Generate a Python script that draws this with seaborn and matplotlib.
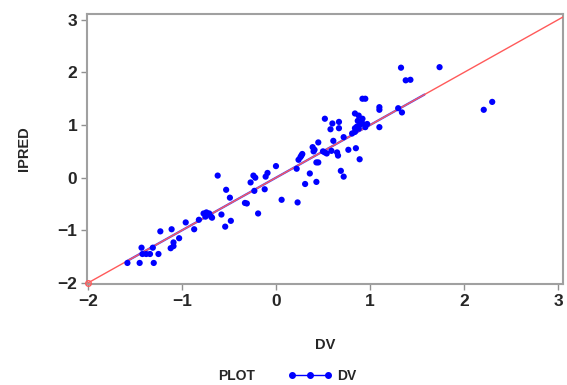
import matplotlib
matplotlib.use("Agg")
import matplotlib.pyplot as plt
from matplotlib.lines import Line2D
import seaborn as sns
import pandas as pd

dv = [-1.58, -1.45, -1.30, -1.43, -1.31, -1.42, -1.38, -1.34, -1.25,
      -1.23, -1.11, -1.03, -1.09, -1.12, -1.09, -0.96, -0.87, -0.82,
      -0.77, -0.74, -0.71, -0.69, -0.75, -0.68,
      -0.62, -0.58, -0.53, -0.49, -0.54, -0.48,
      -0.33, -0.31, -0.27, -0.24, -0.22, -0.23, -0.19, -0.12, -0.11, -0.09, 0.00,
      0.06, 0.23, 0.22, 0.24, 0.26, 0.27, 0.28,
      0.31, 0.36, 0.43, 0.39, 0.40, 0.41, 0.43, 0.45, 0.45,
      0.50, 0.52, 0.54, 0.59, 0.65, 0.66, 0.69, 0.72,
      0.77, 0.85, 0.89,
      0.52, 0.60, 0.67, 0.58, 0.67, 0.72, 0.61, 0.81, 0.84,
      0.92, 0.95, 1.10, 1.10, 1.30, 1.34,
      1.33, 1.74, 1.38, 1.43, 2.21, 2.30,
      0.84, 0.88, 0.87, 0.90, 0.89, 0.86, 0.92, 0.95, 0.84, 0.88, 0.97, 0.92,
      1.10]
ipred = [-1.62, -1.62, -1.62, -1.33, -1.33, -1.45, -1.45, -1.45, -1.45,
         -1.02, -0.98, -1.15, -1.23, -1.34, -1.30, -0.85, -0.98, -0.80,
         -0.68, -0.66, -0.68, -0.74, -0.74, -0.76,
         0.04, -0.70, -0.23, -0.38, -0.93, -0.82,
         -0.48, -0.49, -0.09, 0.04, 0.00, -0.25, -0.68, -0.22, 0.02, 0.09, 0.22,
         -0.42, -0.47, 0.17, 0.34, 0.39, 0.42, 0.45,
         -0.12, 0.08, -0.08, 0.58, 0.50, 0.53, 0.29, 0.29, 0.67,
         0.50, 0.48, 0.46, 0.51, 0.48, 0.42, 0.13, 0.02,
         0.53, 0.56, 0.35,
         1.12, 1.03, 1.06, 0.92, 0.94, 0.77, 0.70, 0.84, 0.87,
         1.50, 1.50, 1.34, 1.29, 1.32, 1.24,
         2.09, 2.10, 1.85, 1.86, 1.29, 1.44,
         1.22, 1.18, 1.08, 1.05, 1.00, 0.97, 1.03, 0.96, 0.94, 0.93, 1.02, 1.12,
         0.96]

ref_line = [-2.0, 3.2]
dv_line = [-1.58, 1.58]

x_ticks = [-2, -1, 0, 1, 2, 3]
y_ticks = [-2, -1, 0, 1, 2, 3]

sns.set_theme(style="white")
plt.rcParams['font.family'] = ['Liberation Sans', 'DejaVu Sans']

fig = plt.figure(figsize=(5.67, 3.85), dpi=100)
ax = fig.add_axes([87/567, 1 - 284/385, (563 - 87)/567, (284 - 14)/385])

df = pd.DataFrame({"DV": dv, "IPRED": ipred})
sns.lineplot(x=dv_line, y=dv_line, ax=ax, color="#4040ff", lw=1.6, zorder=2)
sns.lineplot(x=ref_line, y=ref_line, ax=ax, color="#ff5a5a", lw=1.0, zorder=3)
ax.plot(ref_line[:1], ref_line[:1], marker="o", mfc="none", mec="#ff5a5a",
        ms=4, mew=1, zorder=3, clip_on=False)
sns.scatterplot(data=df, x="DV", y="IPRED", ax=ax, color="#0000ff", s=20,
                edgecolor="none", zorder=4)

ax.set_xlim(-2.01, 3.053)
ax.set_ylim(-2.02, 3.11)
ax.set_xticks(x_ticks)
ax.set_yticks(y_ticks)
ax.set_xticklabels([str(t).replace("-", "\u2212") for t in x_ticks])
ax.set_yticklabels([str(t).replace("-", "\u2212") for t in y_ticks])
ax.tick_params(axis="both", which="both", direction="out", length=4, width=1,
               color="#909090", labelsize=12.5, pad=3, bottom=True, left=True)
for lbl in ax.get_xticklabels() + ax.get_yticklabels():
    lbl.set_fontweight("bold")
for sp in ax.spines.values():
    sp.set_color("#a0a0a0")
    sp.set_linewidth(1.5)

ax.set_xlabel("DV", fontsize=10.5, fontweight="bold", labelpad=21)
ax.set_ylabel("IPRED", fontsize=10.5, fontweight="bold", labelpad=19)

fig.text(237/567, 1 - 376/385, "PLOT", fontsize=10, fontweight="bold",
         ha="center", va="center")
handle = Line2D([], [], color="#0000ff", lw=1, marker="o", markersize=4)
leg = fig.legend([handle], ["DV"], loc="center", bbox_to_anchor=(322/567, 1 - 376/385),
                 frameon=False, numpoints=3, handlelength=3.2, handletextpad=0.4,
                 prop={"size": 10, "weight": "bold"})

fig.savefig("out.png", dpi=100)
